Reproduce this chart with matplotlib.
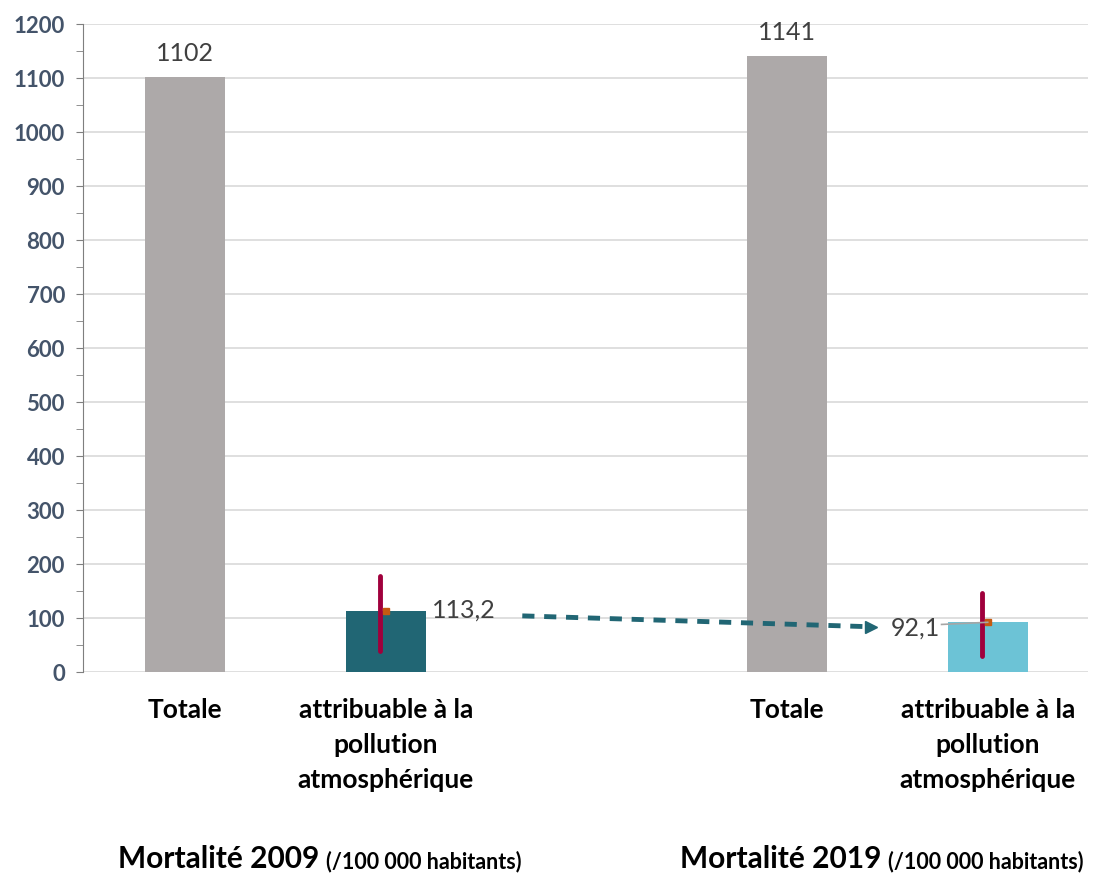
import matplotlib.pyplot as plt

plt.rcParams['font.family'] = ['Lato', 'DejaVu Sans']

# Données
positions = [0, 1, 3, 4]
valeurs = [1102, 113.2, 1141, 92.1]
etiquettes_valeurs = ["1102", "113,2", "1141", "92,1"]
categories = ["Totale", "attribuable à la\npollution\natmosphérique",
              "Totale", "attribuable à la\npollution\natmosphérique"]
err_bas = [None, 39, None, 30]
err_haut = [None, 178, None, 146]
groupes = ["Mortalité 2009", "Mortalité 2019"]
sous_titre = "(/100 000 habitants)"

couleurs = ["#ADA9A9", "#216674", "#ADA9A9", "#6CC3D6"]

fig = plt.figure(figsize=(10.96, 8.74), dpi=100)
ax = fig.add_axes([0.0757, 0.2311, 0.917, 0.7414])

ax.bar(positions, valeurs, width=0.4, color=couleurs, zorder=2)

# barres d'incertitude
for p, v, lo, hi in zip(positions, valeurs, err_bas, err_haut):
    if lo is None:
        continue
    ax.plot([p - 0.03, p - 0.03], [lo, hi], color="#A0003C", lw=3.5,
            solid_capstyle="round", zorder=3)
    ax.plot(p, v, marker="s", ms=4, color="#C55A11", zorder=4)

# étiquettes de valeur
ax.text(positions[0], valeurs[0] + 22, etiquettes_valeurs[0], ha="center",
        va="bottom", fontsize=18, color="#404040")
ax.text(positions[2], valeurs[2] + 22, etiquettes_valeurs[2], ha="center",
        va="bottom", fontsize=18, color="#404040")
ax.text(positions[1] + 0.23, valeurs[1] + 2, etiquettes_valeurs[1], ha="left",
        va="center", fontsize=18, color="#404040")
ax.text(positions[3] - 0.24, valeurs[3] - 10, etiquettes_valeurs[3], ha="right",
        va="center", fontsize=18, color="#404040")
ax.plot([positions[3] - 0.23, positions[3]], [valeurs[3] - 4, valeurs[3]],
        color="#A6A6A6", lw=1.2, zorder=4)

# flèche en pointillés
ax.plot([1.68, 3.4], [104, 84], color="#216674", lw=3.5, ls=(0, (2.5, 2)), zorder=2)
ax.plot(3.42, 83, marker=">", ms=9, color="#216674", zorder=3)

ax.set_xlim(-0.51, 4.5)
ax.set_ylim(0, 1200)
ax.set_yticks(range(0, 1201, 100))
ax.set_yticks(range(50, 1200, 100), minor=True)
ax.tick_params(axis="y", which="both", direction="out", length=5, color="#7F7F7F")
ax.tick_params(axis="y", labelsize=16, labelcolor="#44546A", pad=8)
for lab in ax.get_yticklabels():
    lab.set_fontweight("bold")
ax.grid(axis="y", color="#D9D9D9", lw=1.2, zorder=0)
ax.set_axisbelow(True)
for s in ["top", "right", "bottom"]:
    ax.spines[s].set_visible(False)
ax.spines["left"].set_color("#7F7F7F")

ax.set_xticks(positions)
ax.set_xticklabels(categories, fontsize=19, fontweight="bold", va="top",
                   linespacing=1.55)
ax.tick_params(axis="x", length=0, pad=19)

# titres de groupe
fig.canvas.draw()
rend = fig.canvas.get_renderer()
for x0, g in zip([118, 680], groupes):
    t = fig.text(x0 / 1096, 1 - 868 / 874, g, fontsize=21.5, fontweight="bold",
                 ha="left", va="baseline")
    bb = t.get_window_extent(renderer=rend)
    fig.text((bb.x1 + 7) / 1096, 1 - 868 / 874, sous_titre, fontsize=15.5,
             fontweight="bold", ha="left", va="baseline")

fig.savefig("out.png", dpi=100)
